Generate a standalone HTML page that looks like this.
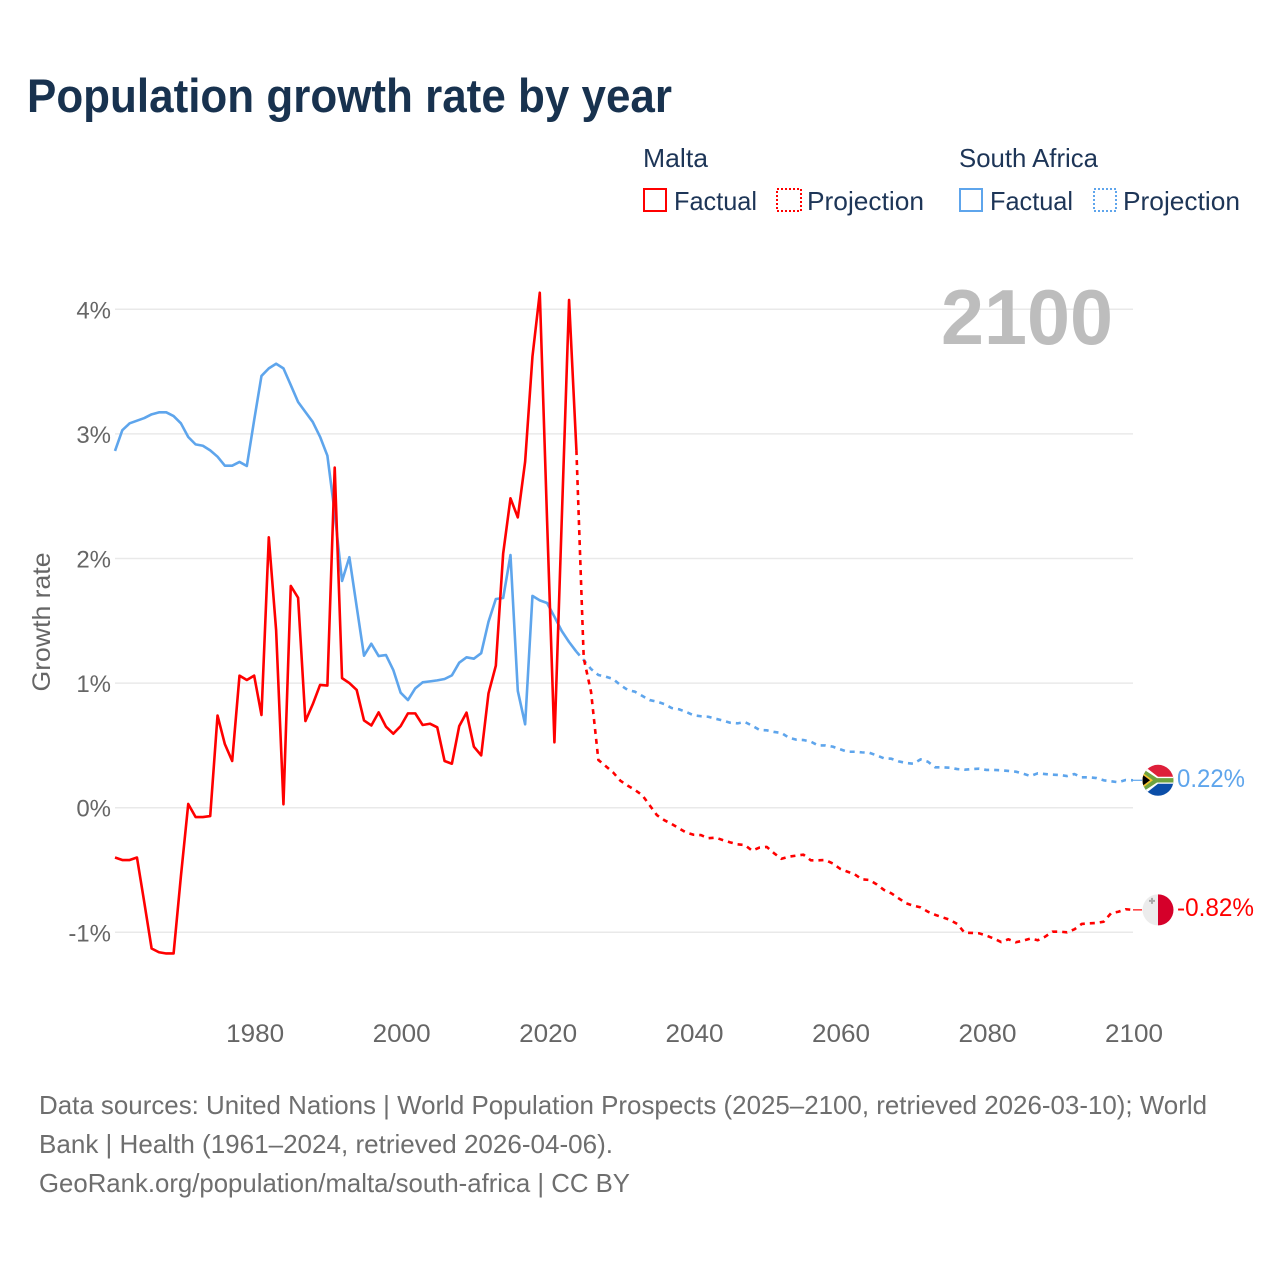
<!DOCTYPE html>
<html lang="en">
<head>
<meta charset="utf-8">
<title>Population growth rate by year</title>
<style>
  html, body { margin: 0; padding: 0; background: #ffffff; }
  svg { display: block; font-family: "Liberation Sans", sans-serif; }
</style>
</head>
<body>
<svg id="chart" width="1280" height="1280" viewBox="0 0 1280 1280" xmlns="http://www.w3.org/2000/svg">
  <defs>
    <clipPath id="flag-clip-za"><circle cx="0" cy="0" r="15.5"/></clipPath>
    <clipPath id="flag-clip-mt"><circle cx="0" cy="0" r="15.5"/></clipPath>
  </defs>
  <rect x="0" y="0" width="1280" height="1280" fill="#ffffff"/>
  <text x="27" y="112" font-size="47" font-weight="bold" fill="#18324f" textLength="645" lengthAdjust="spacingAndGlyphs">Population growth rate by year</text>

  <g font-size="26" fill="#1d3557">
    <text x="643" y="167" textLength="65" lengthAdjust="spacingAndGlyphs">Malta</text>
    <text x="959" y="167" textLength="139" lengthAdjust="spacingAndGlyphs">South Africa</text>
    <g>
      <rect x="644" y="189" width="22" height="22" fill="none" stroke="#ff0000" stroke-width="2"/>
      <text x="674" y="210" textLength="83" lengthAdjust="spacingAndGlyphs">Factual</text>
    </g>
    <g>
      <rect x="777" y="189" width="24" height="22" fill="none" stroke="#ff0000" stroke-width="2" stroke-dasharray="2 2"/>
      <text x="807" y="210" textLength="117" lengthAdjust="spacingAndGlyphs">Projection</text>
    </g>
    <g>
      <rect x="960" y="189" width="22" height="22" fill="none" stroke="#5ea5ec" stroke-width="2"/>
      <text x="990" y="210" textLength="83" lengthAdjust="spacingAndGlyphs">Factual</text>
    </g>
    <g>
      <rect x="1094" y="189" width="22" height="22" fill="none" stroke="#5ea5ec" stroke-width="2" stroke-dasharray="2 2"/>
      <text x="1123" y="210" textLength="117" lengthAdjust="spacingAndGlyphs">Projection</text>
    </g>
  </g>

  <g id="grid"></g>
  <g id="y-ticks"></g>
  <g id="x-ticks"></g>

  <text transform="translate(50 622) rotate(-90)" text-anchor="middle" font-size="25" fill="#666666" textLength="139" lengthAdjust="spacingAndGlyphs">Growth rate</text>

  <text id="year-label" x="1113" y="344" text-anchor="end" font-size="78" font-weight="bold" fill="#bdbdbd" textLength="172" lengthAdjust="spacingAndGlyphs"></text>

  <g id="series"></g>

  <g id="flag-za">
    <g clip-path="url(#flag-clip-za)">
      <rect x="-16" y="-16" width="32" height="16" fill="#de1f3a"/>
      <rect x="-16" y="0" width="32" height="16" fill="#0b4ea8"/>
      <path d="M-16 -16 L0 -3.5 L16 -3.5 L16 3.5 L0 3.5 L-16 16 Z" fill="#ffffff"/>
      <path d="M-16 -12 L-1 -2.2 L16 -2.2 L16 2.2 L-1 2.2 L-16 12 Z" fill="#6ea33f"/>
      <path d="M-16 -8 L-5 0 L-16 8 Z" fill="#f4c430"/>
      <path d="M-16 -6 L-8 0 L-16 6 Z" fill="#000000"/>
    </g>
  </g>
  <g id="flag-mt">
    <g clip-path="url(#flag-clip-mt)">
      <rect x="-16" y="-16" width="16" height="32" fill="#ececec"/>
      <rect x="0" y="-16" width="16" height="32" fill="#d5002a"/>
      <path d="M-7 -12 h2 v2 h2 v2 h-2 v2 h-2 v-2 h-2 v-2 h2 z" fill="#a8a8a8"/>
    </g>
  </g>
  <text id="value-za" x="1177" font-size="25" fill="#5ea5ec" textLength="68" lengthAdjust="spacingAndGlyphs"></text>
  <text id="value-mt" x="1177" font-size="25" fill="#ff0000" textLength="77" lengthAdjust="spacingAndGlyphs"></text>

  <g font-size="26" fill="#6e6e6e">
    <text x="39" y="1114" textLength="1168" lengthAdjust="spacingAndGlyphs">Data sources: United Nations | World Population Prospects (2025–2100, retrieved 2026-03-10); World</text>
    <text x="39" y="1153" textLength="574" lengthAdjust="spacingAndGlyphs">Bank | Health (1961–2024, retrieved 2026-04-06).</text>
    <text x="39" y="1192" textLength="591" lengthAdjust="spacingAndGlyphs">GeoRank.org/population/malta/south-africa | CC BY</text>
  </g>
</svg>
<script>
const startYear = 1961;
const lastFactualYear = 2024;
const yTickValues = [4, 3, 2, 1, 0, -1];
const yTickLabels = ["4%", "3%", "2%", "1%", "0%", "-1%"];
const xTickValues = [1980, 2000, 2020, 2040, 2060, 2080, 2100];
const xTickLabels = ["1980", "2000", "2020", "2040", "2060", "2080", "2100"];

const maltaFactual = [
  -0.40, -0.42, -0.42, -0.40, -0.76, -1.13, -1.16, -1.17, -1.17, -0.55,
  0.03, -0.075, -0.075, -0.067, 0.74, 0.51, 0.375, 1.06, 1.025, 1.06,
  0.744, 2.17, 1.425, 0.027, 1.78, 1.685, 0.695, 0.83, 0.985, 0.98,
  2.73, 1.04, 1.0, 0.945, 0.70, 0.66, 0.765, 0.65, 0.594, 0.655,
  0.757, 0.757, 0.664, 0.674, 0.645, 0.375, 0.353, 0.655, 0.763, 0.49,
  0.42, 0.918, 1.14, 2.04, 2.483, 2.33, 2.777, 3.62, 4.133, 2.3,
  0.525, 2.31, 4.075, 2.87
];
const maltaProjection = [
  1.2, 0.93, 0.383, 0.334, 0.284, 0.217, 0.177, 0.142, 0.10, 0.02,
  -0.06, -0.10, -0.13, -0.165, -0.20, -0.217, -0.22, -0.245, -0.24, -0.26,
  -0.278, -0.294, -0.30, -0.345, -0.32, -0.315, -0.366, -0.41, -0.393, -0.385,
  -0.377, -0.422, -0.422, -0.42, -0.447, -0.49, -0.513, -0.535, -0.575, -0.58,
  -0.615, -0.66, -0.687, -0.727, -0.767, -0.786, -0.80, -0.835, -0.86, -0.88,
  -0.90, -0.933, -1.003, -1.005, -1.008, -1.027, -1.05, -1.078, -1.056, -1.08,
  -1.067, -1.05, -1.064, -1.035, -0.995, -0.995, -1.0, -0.976, -0.933, -0.928,
  -0.925, -0.915, -0.847, -0.835, -0.815, -0.82
];
const southAfricaFactual = [
  2.863, 3.03, 3.085, 3.106, 3.127, 3.157, 3.173, 3.173, 3.143, 3.085,
  2.975, 2.916, 2.905, 2.868, 2.817, 2.745, 2.745, 2.775, 2.742, 3.11,
  3.465, 3.526, 3.563, 3.526, 3.392, 3.256, 3.176, 3.096, 2.977, 2.825,
  2.365, 1.82, 2.01, 1.613, 1.22, 1.316, 1.217, 1.225, 1.105, 0.923,
  0.864, 0.958, 1.006, 1.014, 1.022, 1.033, 1.062, 1.164, 1.207, 1.196,
  1.24, 1.493, 1.675, 1.683, 2.028, 0.937, 0.669, 1.70, 1.664, 1.643,
  1.533, 1.418, 1.33, 1.252
];
const southAfricaProjection = [
  1.185, 1.113, 1.065, 1.052, 1.033, 0.985, 0.945, 0.931, 0.897, 0.864,
  0.851, 0.832, 0.80, 0.79, 0.768, 0.742, 0.734, 0.73, 0.714, 0.70,
  0.682, 0.677, 0.688, 0.658, 0.624, 0.621, 0.608, 0.60, 0.562, 0.546,
  0.543, 0.53, 0.50, 0.50, 0.49, 0.469, 0.449, 0.449, 0.444, 0.441,
  0.42, 0.396, 0.393, 0.372, 0.359, 0.353, 0.388, 0.369, 0.324, 0.324,
  0.321, 0.31, 0.305, 0.31, 0.313, 0.303, 0.303, 0.30, 0.295, 0.289,
  0.273, 0.254, 0.276, 0.27, 0.265, 0.262, 0.254, 0.27, 0.244, 0.244,
  0.238, 0.22, 0.212, 0.204, 0.222, 0.22
];

const SVG_NS = "http://www.w3.org/2000/svg";
const plotLeft = 115;
const plotRight = 1133;
const endYear = lastFactualYear + southAfricaProjection.length;

function xScale(year) {
  return plotLeft + (year - startYear) * (plotRight - plotLeft) / (endYear - startYear);
}
function yScale(value) {
  return 807.7 - value * 124.6;
}
function svgEl(tag, attrs) {
  const el = document.createElementNS(SVG_NS, tag);
  Object.keys(attrs).forEach(function (key) { el.setAttribute(key, attrs[key]); });
  return el;
}
function linePath(values, firstYear) {
  return values.map(function (value, i) {
    return (i === 0 ? "M" : "L") + xScale(firstYear + i).toFixed(2) + " " + yScale(value).toFixed(2);
  }).join(" ");
}

const gridGroup = document.getElementById("grid");
const yTickGroup = document.getElementById("y-ticks");
yTickValues.forEach(function (value, i) {
  const y = yScale(value);
  const line = svgEl("line", { x1: plotLeft, x2: plotRight, y1: y, y2: y, stroke: "#e9e9e9", "stroke-width": 1.5 });
  
  
  gridGroup.appendChild(line);
  const label = svgEl("text", { x: 111, y: y + 9, "text-anchor": "end", "font-size": 24, fill: "#666666" });
  
  
  label.textContent = yTickLabels[i];
  yTickGroup.appendChild(label);
});

const xTickGroup = document.getElementById("x-ticks");
xTickValues.forEach(function (year, i) {
  const label = svgEl("text", { x: xScale(year) + 1, y: 1042, "text-anchor": "middle", "font-size": 25, fill: "#666666", textLength: 58, lengthAdjust: "spacingAndGlyphs" });
  
  
  label.textContent = xTickLabels[i];
  xTickGroup.appendChild(label);
});

const seriesGroup = document.getElementById("series");
function pathStyle(color, dashed) {
  const attrs = { fill: "none", stroke: color, "stroke-width": 2.6, "stroke-linejoin": "round" };
  if (dashed) { attrs["stroke-dasharray"] = "5 5"; }
  return attrs;
}

const southAfricaColor = "#5ea5ec";
const maltaColor = "#ff0000";

const zaProjPath = svgEl("path", pathStyle(southAfricaColor, true));


zaProjPath.setAttribute("d", linePath([southAfricaFactual[southAfricaFactual.length - 1]].concat(southAfricaProjection), lastFactualYear));
seriesGroup.appendChild(zaProjPath);

const zaFactPath = svgEl("path", pathStyle(southAfricaColor, false));


zaFactPath.setAttribute("d", linePath(southAfricaFactual, startYear));
seriesGroup.appendChild(zaFactPath);

const mtProjPath = svgEl("path", pathStyle(maltaColor, true));


mtProjPath.setAttribute("d", linePath([maltaFactual[maltaFactual.length - 1]].concat(maltaProjection), lastFactualYear));
seriesGroup.appendChild(mtProjPath);

const mtFactPath = svgEl("path", pathStyle(maltaColor, false));


mtFactPath.setAttribute("d", linePath(maltaFactual, startYear));
seriesGroup.appendChild(mtFactPath);

const zaLast = southAfricaProjection[southAfricaProjection.length - 1];
const mtLast = maltaProjection[maltaProjection.length - 1];

const zaConnector = svgEl("line", { x1: plotRight, x2: 1142, y1: yScale(zaLast), y2: yScale(zaLast), stroke: southAfricaColor, "stroke-width": 1.2 });


seriesGroup.appendChild(zaConnector);

const mtConnector = svgEl("line", { x1: plotRight, x2: 1142, y1: yScale(mtLast), y2: yScale(mtLast), stroke: maltaColor, "stroke-width": 1.2 });


seriesGroup.appendChild(mtConnector);

document.getElementById("flag-za").setAttribute("transform", "translate(1158 " + yScale(zaLast).toFixed(2) + ")");
document.getElementById("flag-mt").setAttribute("transform", "translate(1158 " + yScale(mtLast).toFixed(2) + ")");

const zaValue = document.getElementById("value-za");
zaValue.setAttribute("y", (yScale(zaLast) + 6.5).toFixed(2));
zaValue.textContent = zaLast.toFixed(2) + "%";

const mtValue = document.getElementById("value-mt");
mtValue.setAttribute("y", (yScale(mtLast) + 6).toFixed(2));
mtValue.textContent = mtLast.toFixed(2) + "%";

document.getElementById("year-label").textContent = String(endYear);
</script>
</body>
</html>
